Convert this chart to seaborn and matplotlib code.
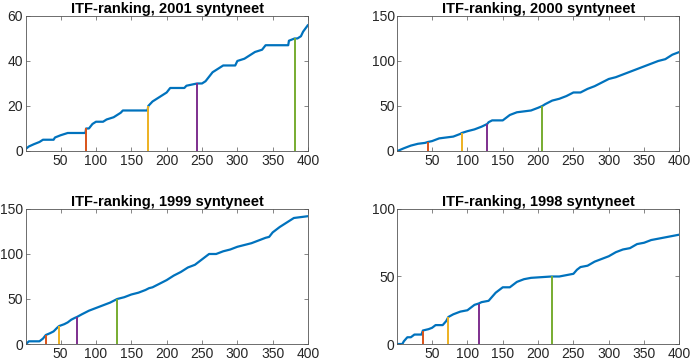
import matplotlib
matplotlib.use("Agg")
import matplotlib.pyplot as plt
import seaborn as sns
import pandas as pd

# ---- data ----
years = ["2001", "2000", "1999", "1998"]

x_2001 = [1, 5, 12, 20, 25, 40, 42, 50, 60, 85, 86, 90, 95, 100, 110, 115, 125, 130, 135, 138,
          173, 174, 180, 190, 200, 205, 225, 228, 243, 250, 255, 260, 265, 270, 275, 280, 297,
          300, 310, 320, 325, 335, 340, 372, 373, 381, 385, 390, 393, 400]
y_2001 = [1, 2, 3, 4, 5, 5, 6, 7, 8, 8, 10, 10, 12, 13, 13, 14, 15, 16, 17, 18,
          18, 20, 22, 24, 26, 28, 28, 29, 30, 30, 31, 33, 35, 36, 37, 38, 38,
          40, 41, 43, 44, 45, 47, 47, 49, 50, 50, 51, 53, 56]

x_2000 = [1, 10, 20, 30, 40, 44, 50, 60, 70, 80, 90, 92, 100, 110, 120, 128, 130, 135, 150, 155,
          160, 170, 180, 190, 200, 206, 210, 220, 230, 240, 250, 260, 270, 280, 290, 300, 310,
          320, 330, 340, 350, 360, 370, 380, 390, 400]
y_2000 = [0, 3, 6, 8, 9, 10, 11, 14, 15, 16, 19, 20, 22, 24, 27, 30, 32, 34, 34, 37,
          40, 43, 44, 45, 48, 50, 52, 56, 58, 61, 65, 65, 69, 72, 76, 80, 82,
          85, 88, 91, 94, 97, 100, 102, 107, 110]

x_1999 = [1, 5, 20, 25, 29, 35, 40, 45, 48, 55, 60, 65, 70, 73, 80, 85, 90, 100, 110, 120, 130,
          140, 150, 160, 170, 175, 180, 190, 200, 210, 220, 230, 240, 250, 260, 270, 280, 290,
          300, 310, 320, 330, 340, 345, 350, 360, 370, 380, 390, 400]
y_1999 = [0, 3, 3, 6, 10, 12, 14, 18, 20, 22, 24, 27, 29, 30, 33, 35, 37, 40, 43, 46, 50,
          52, 55, 57, 60, 62, 63, 67, 71, 76, 80, 85, 88, 94, 100, 100, 103, 105,
          108, 110, 112, 115, 118, 119, 124, 130, 135, 140, 141, 142]

x_1998 = [1, 8, 10, 15, 20, 25, 35, 37, 45, 50, 55, 65, 70, 73, 80, 90, 100, 105, 110, 116,
          120, 130, 135, 140, 145, 150, 160, 170, 180, 190, 219, 230, 240, 250, 255, 260, 270,
          280, 290, 300, 310, 320, 330, 340, 350, 360, 370, 380, 390, 400]
y_1998 = [0, 0, 2, 5, 5, 7, 7, 10, 11, 12, 14, 14, 17, 20, 22, 24, 25, 27, 29, 30,
          31, 32, 35, 38, 40, 42, 42, 46, 48, 49, 50, 50, 51, 52, 55, 57, 58,
          61, 63, 65, 68, 70, 71, 74, 75, 77, 78, 79, 80, 81]

thresholds = [10, 20, 30, 50]
marks_2001 = [86, 174, 243, 381]
marks_2000 = [44, 92, 128, 206]
marks_1999 = [29, 48, 73, 130]
marks_1998 = [37, 73, 116, 219]

ylims = {"2001": (0, 60), "2000": (0, 150), "1999": (0, 150), "1998": (0, 100)}
yticks = {"2001": [0, 20, 40, 60], "2000": [0, 50, 100, 150],
          "1999": [0, 50, 100, 150], "1998": [0, 50, 100]}
xticks = [50, 100, 150, 200, 250, 300, 350, 400]

curves = {"2001": (x_2001, y_2001), "2000": (x_2000, y_2000),
          "1999": (x_1999, y_1999), "1998": (x_1998, y_1998)}
marks = {"2001": marks_2001, "2000": marks_2000, "1999": marks_1999, "1998": marks_1998}

# ---- styling ----
sns.set_theme(style="white")
plt.rcParams["font.family"] = ["Liberation Sans", "DejaVu Sans"]

blue = "#0072BD"
mark_colors = ["#D95319", "#EDB120", "#7E2F8E", "#77AC30"]
text_col = "#262626"

fig = plt.figure(figsize=(6.9, 3.62), dpi=100)
W = 0.4087
H = 0.373
positions = {
    "2001": [0.0377, 0.5829, W, H],
    "2000": [0.5760, 0.5829, W, H],
    "1999": [0.0377, 0.0497, W, H],
    "1998": [0.5760, 0.0497, W, H],
}

for yr in years:
    ax = fig.add_axes(positions[yr])
    xs, ys = curves[yr]
    df = pd.DataFrame({"rank": xs, "count": ys})
    sns.lineplot(data=df, x="rank", y="count", ax=ax, color=blue, linewidth=1.6,
                 estimator=None, sort=False, zorder=2)
    for m, t, c in zip(marks[yr], thresholds, mark_colors):
        ax.vlines(m, 0, t, color=c, linewidth=1.4, zorder=3)
    ax.set_xlim(1, 400)
    ax.set_ylim(*ylims[yr])
    ax.set_xticks(xticks)
    ax.set_yticks(yticks[yr])
    ax.set_xlabel("")
    ax.set_ylabel("")
    ax.set_title(f"ITF-ranking, {yr} syntyneet", fontsize=10.5, fontweight="bold",
                 color="black", pad=2)
    ax.tick_params(axis="both", which="both", direction="in", length=3, width=0.5,
                   top=True, right=True, bottom=True, left=True,
                   labelsize=10, colors=text_col, pad=2)
    ax.tick_params(axis="both", colors="#555555", labelcolor=text_col)
    for s in ax.spines.values():
        s.set_visible(True)
        s.set_color("#555555")
        s.set_linewidth(0.6)

fig.savefig("out.png", dpi=100)
